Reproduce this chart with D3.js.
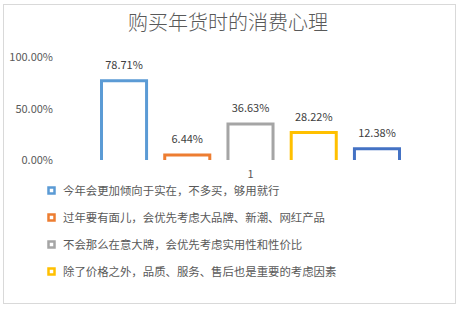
<!DOCTYPE html>
<html><head><meta charset="utf-8">
<script src="https://cdn.jsdelivr.net/npm/d3@7"></script>
<style>body{margin:0;background:#fff}svg{display:block}</style>
</head><body>
<svg id="c" width="459" height="309"></svg>
<script>
const title = "购买年货时的消费心理";
const categories = ["1"];
const seriesNames = [
  "今年会更加倾向于实在，不多买，够用就行",
  "过年要有面儿，会优先考虑大品牌、新潮、网红产品",
  "不会那么在意大牌，会优先考虑实用性和性价比",
  "除了价格之外，品质、服务、售后也是重要的考虑因素",
  "其他"
];
const seriesValues = [78.71, 6.44, 36.63, 28.22, 12.38];
const yTicks = [0, 50, 100];
const colors = ["#5B9BD5", "#ED7D31", "#A5A5A5", "#FFC000", "#4472C4"];

const svg = d3.select("#c");
const font = "'Noto Sans CJK SC','Noto Sans',sans-serif";

svg.append("rect").attr("x", 3.5).attr("y", 4.5).attr("width", 452).attr("height", 299)
  .attr("fill", "#fff").attr("stroke", "#d9d9d9");

svg.append("text").attr("x", 228).attr("y", 30).attr("text-anchor", "middle")
  .attr("font-family", font).attr("font-size", 20).attr("font-weight", 300)
  .attr("fill", "#595959").text(title);

const y = d3.scaleLinear().domain([0, 100]).range([160, 57.3]);
const x0 = d3.scaleBand().domain(categories).range([68, 433]).padding(0);
const cx = x0("1") + x0.bandwidth() / 2;
const x1 = d3.scaleBand().domain(d3.range(seriesValues.length))
  .range([cx - 150.5, cx + 150.5]).paddingInner(0.24).paddingOuter(0);

const yAxis = d3.axisLeft(y).tickValues(yTicks).tickSize(0).tickPadding(0)
  .tickFormat(d => d.toFixed(2) + "%");
const gy = svg.append("g").attr("transform", "translate(53,0)").call(yAxis);
gy.select(".domain").remove();
gy.selectAll("text").attr("font-family", font).attr("font-size", 11).attr("fill", "#595959");

const xAxis = d3.axisBottom(x0).tickSize(0).tickPadding(0);
const gx = svg.append("g").attr("transform", "translate(0,170)").call(xAxis);
gx.select(".domain").remove();
gx.selectAll("text").attr("font-family", font).attr("font-size", 11).attr("fill", "#595959");

const g = svg.append("g");
seriesValues.forEach((v, i) => {
  const l = x1(i) + 1.5, r = x1(i) + x1.bandwidth() - 1.5, t = y(v) + 1.5, b = y(0);
  g.append("path")
    .attr("d", `M${l},${b}V${t}H${r}V${b}`)
    .attr("fill", "#fff").attr("stroke", colors[i]).attr("stroke-width", 3);
  g.append("text").attr("x", x1(i) + x1.bandwidth() / 2).attr("y", y(v) - 10)
    .attr("text-anchor", "middle").attr("font-family", font).attr("font-size", 11)
    .attr("fill", "#404040").text(v.toFixed(2) + "%");
});

// legend (only 4 rows visible inside the chart area)
const lg = svg.append("g");
seriesNames.slice(0, 4).forEach((n, i) => {
  const yy = 191 + i * 27;
  lg.append("rect").attr("x", 48.5).attr("y", yy - 3.5).attr("width", 6).attr("height", 6)
    .attr("fill", "#fff").attr("stroke", colors[i]).attr("stroke-width", 2.5);
  lg.append("text").attr("x", 63).attr("y", yy + 4).attr("font-family", font)
    .attr("font-size", 11.4).attr("fill", "#595959").text(n);
});
</script>
</body></html>
